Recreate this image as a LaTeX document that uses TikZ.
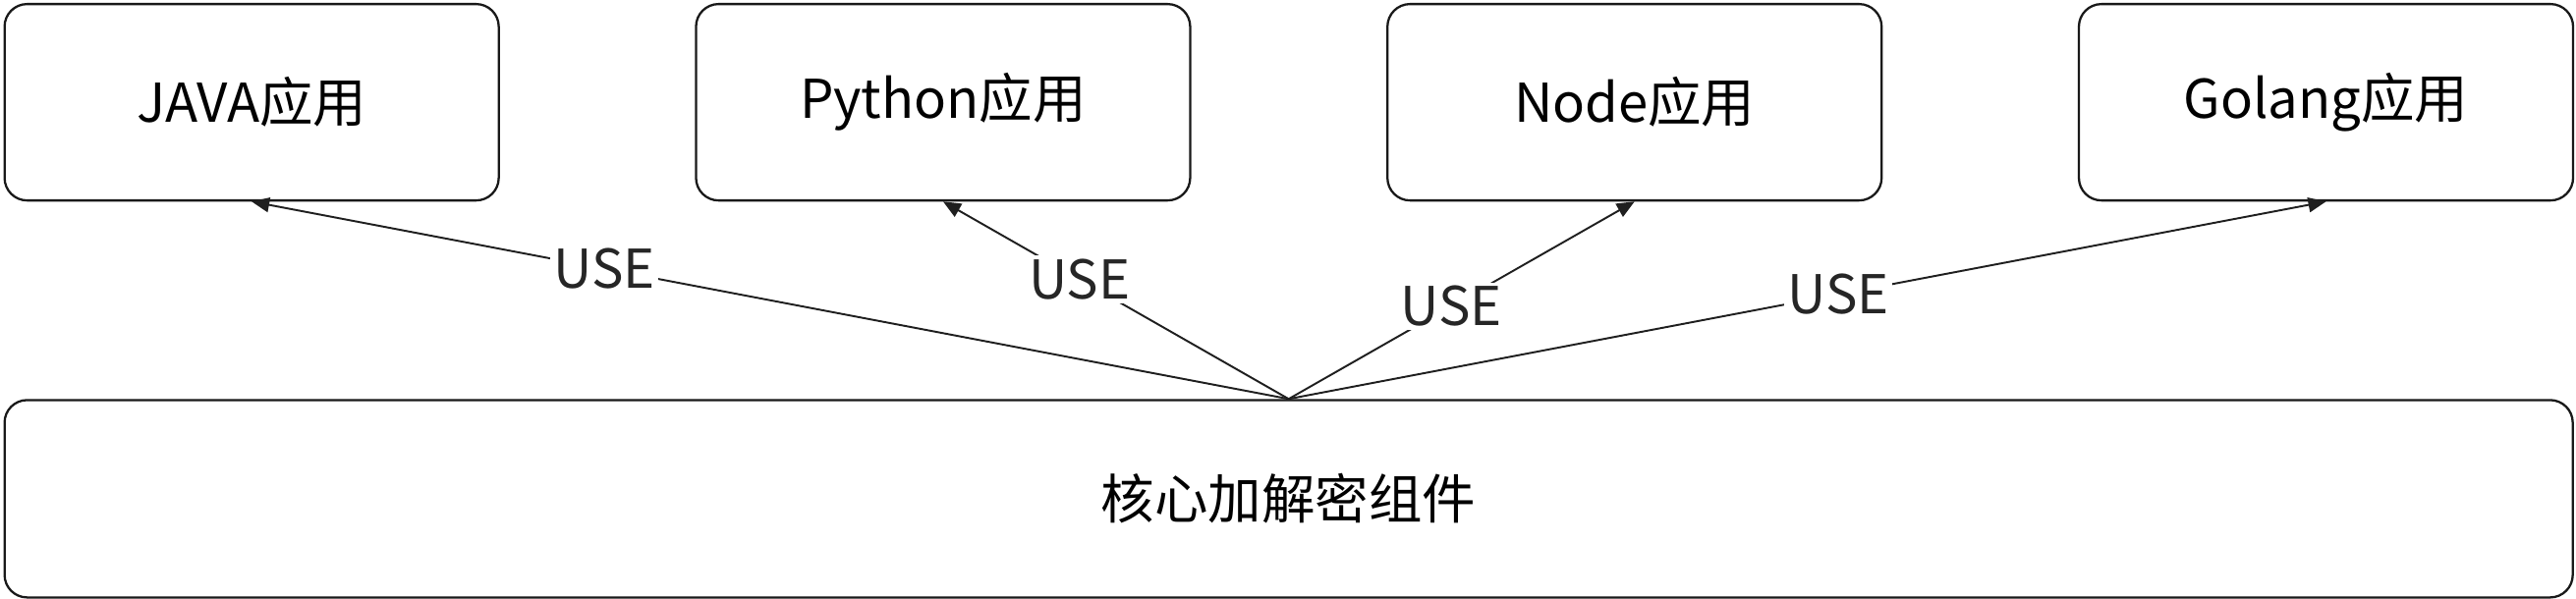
\documentclass[tikz,border=0pt]{standalone}
\usepackage{fontspec}
\setmainfont{Noto Sans CJK SC}
\usetikzlibrary{arrows.meta, positioning}

\begin{document}
\begin{tikzpicture}[
    node distance=1.985cm,
    blk/.style={draw=black!90, line width=0.65pt, fill=white, rounded corners=0.23cm, align=center, font=\fontsize{15.5}{18}\selectfont, minimum width=5.03cm, minimum height=2cm, inner sep=0pt},
    app_blk/.style={blk},
    core_blk/.style={blk, minimum width=26.14cm, minimum height=2.01cm},
    arrow/.style={-{Triangle[length=0.18cm, width=0.15cm]}, draw=black!88, line width=0.55pt},
    lbl/.style={fill=white, font=\fontsize{15.5}{18}\selectfont, text=black!85, inner sep=1pt}
]
    \useasboundingbox (0,0) rectangle (26.22,6.10);

    % Applications
    \node[app_blk, anchor=north west] (java) at (0.035,6.07) {JAVA应用};
    \node[app_blk, right=of java] (python) {Python应用};
    \node[app_blk, right=of python] (nodeapp) {Node应用};
    \node[app_blk, right=of nodeapp] (golang) {Golang应用};

    % Core component
    \node[core_blk, below=2.01cm of java.south west, anchor=north west] (core) {核心加解密组件};

    % Usage
    \draw[arrow] (core.north) -- node[lbl, pos=0.66] {USE} (java.south);
    \draw[arrow] (core.north) -- node[lbl, pos=0.605] {USE} (python.south);
    \draw[arrow] (core.north) -- node[lbl, pos=0.47] {USE} (nodeapp.south);
    \draw[arrow] (core.north) -- node[lbl, pos=0.53] {USE} (golang.south);

\end{tikzpicture}
\end{document}
